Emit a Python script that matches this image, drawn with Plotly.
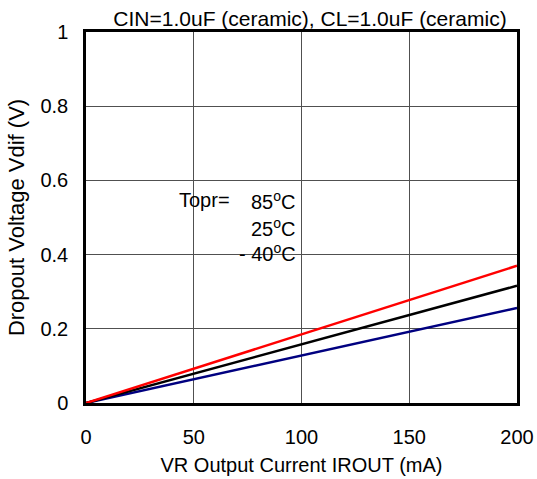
import plotly.graph_objects as go

current_ma = [0, 50, 100, 150, 200]
v_85 = [0, 0.0925, 0.185, 0.2775, 0.37]
v_25 = [0, 0.079, 0.158, 0.237, 0.316]
v_m40 = [0, 0.064, 0.128, 0.192, 0.256]

x_ticks = [0, 50, 100, 150, 200]
y_ticks = [0, 0.2, 0.4, 0.6, 0.8, 1]
y_tick_text = ["0", "0.2", "0.4", "0.6", "0.8", "1"]

FONT = "Liberation Sans, Arial, sans-serif"

fig = go.Figure()
fig.add_trace(go.Scatter(x=current_ma, y=v_m40, mode="lines", line=dict(color="#000080", width=2.5), name="-40°C"))
fig.add_trace(go.Scatter(x=current_ma, y=v_25, mode="lines", line=dict(color="black", width=2.5), name="25°C"))
fig.add_trace(go.Scatter(x=current_ma, y=v_85, mode="lines", line=dict(color="red", width=2.5), name="85°C"))

fig.update_layout(
    width=537, height=479,
    margin=dict(l=86, r=20, t=32, b=76),
    paper_bgcolor="white", plot_bgcolor="white",
    showlegend=False,
    font=dict(family=FONT, size=20, color="black"),
    title=dict(text="CIN=1.0uF (ceramic), CL=1.0uF (ceramic)", x=310 / 537, xanchor="center",
               y=1 - 19 / 479, yanchor="middle", font=dict(size=21)),
    xaxis=dict(range=[0, 200], tickvals=x_ticks, ticks="", showgrid=True, gridcolor="#505050", gridwidth=1,
               showline=True, linecolor="black", linewidth=2.5, mirror=True, zeroline=False,
               automargin=False, ticklabelstandoff=14,
               title=dict(text="VR Output Current IROUT (mA)", font=dict(size=20), standoff=12),
               tickfont=dict(size=20)),
    yaxis=dict(range=[0, 1], tickvals=y_ticks, ticktext=y_tick_text, ticks="", showgrid=True, gridcolor="#505050",
               gridwidth=1, showline=True, linecolor="black", linewidth=2.5, mirror=True, zeroline=False,
               automargin=False, ticklabelstandoff=11,
               title=dict(text="Dropout Voltage Vdif (V)", font=dict(size=22), standoff=10),
               tickfont=dict(size=20)),
)

fig.add_annotation(x=0.211, y=0.547, xref="paper", yref="paper", text="Topr=", showarrow=False,
                   xanchor="left", yanchor="middle", font=dict(size=20))
labels = ["85<sup>o</sup>C", "25<sup>o</sup>C", "- 40<sup>o</sup>C"]
ys = [0.547, 0.474, 0.407]
for t, yy in zip(labels, ys):
    fig.add_annotation(x=0.492, y=yy, xref="paper", yref="paper", text=t, showarrow=False,
                       xanchor="right", yanchor="middle", font=dict(size=20))

fig.write_html("out.html", config={"displayModeBar": False},
               post_script="document.body.style.margin='0';")
